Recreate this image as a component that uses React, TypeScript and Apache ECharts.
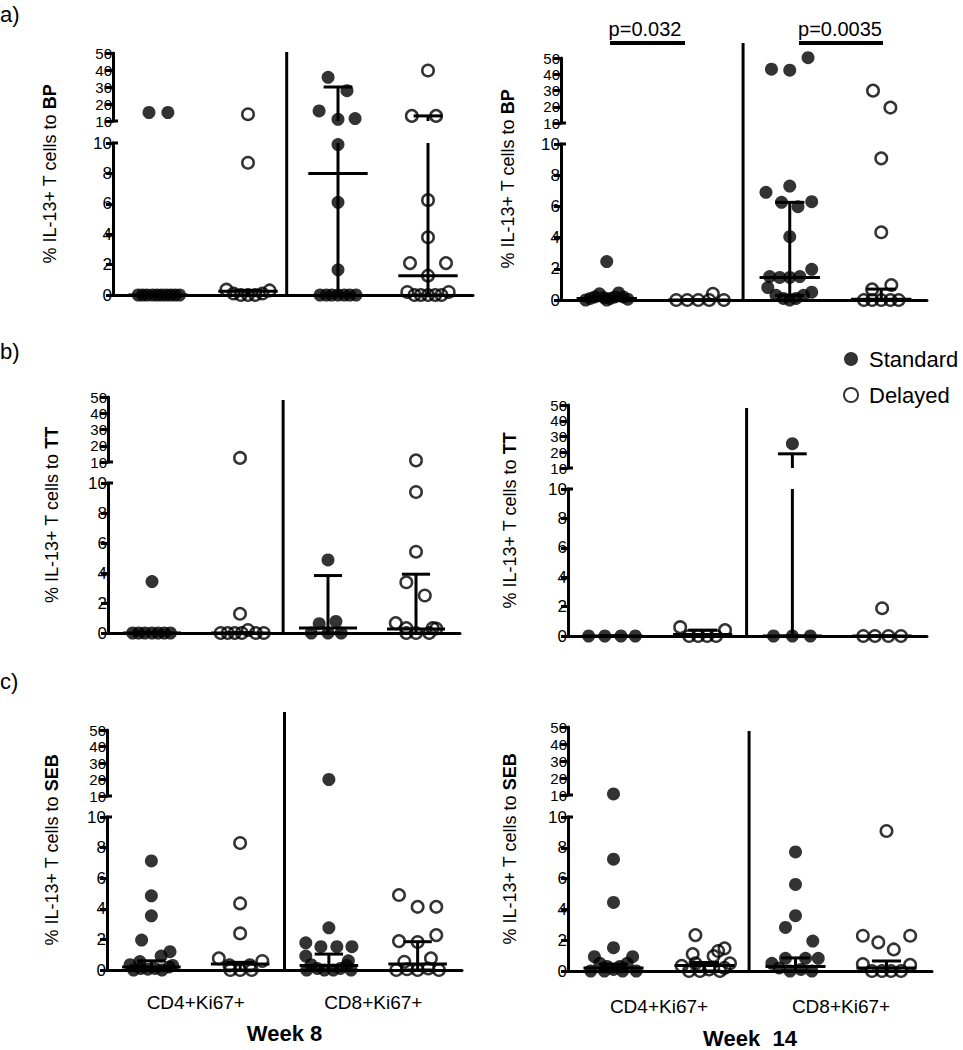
import { useEffect, useRef } from "react";
import * as echarts from "echarts";

// ---------- labels ----------
const GROUPS = ["CD4 Standard", "CD4 Delayed", "CD8 Standard", "CD8 Delayed"];
const CELL_TYPES = ["CD4+Ki67+", "CD8+Ki67+"];
const SERIES_NAMES = ["Standard", "Delayed"];
const STIMULI = ["BP", "TT", "SEB"];
const WEEKS = ["Week 8", "Week  14"];
const PANEL_LETTERS = ["a)", "b)", "c)"];
const LOWER_TICKS = [0, 2, 4, 6, 8, 10];
const UPPER_TICKS = [10, 20, 30, 40, 50];
const P_VALUES = ["p=0.032", "p=0.0035"];

// ---------- data (group order: CD4 Std, CD4 Del, CD8 Std, CD8 Del) ----------
// a) BP, week 8
const BP_W8_VALUES = [
  [15, 15, 0, 0, 0, 0, 0, 0, 0, 0, 0, 0],
  [14, 8.7, 0.35, 0.1, 0, 0, 0, 0.1, 0.3],
  [35.7, 27.8, 15.9, 11, 11.4, 9.9, 6.1, 1.66, 0, 0, 0, 0, 0, 0, 0],
  [39.7, 13, 13, 6.24, 3.8, 2.1, 2.1, 1.27, 0.2, 0, 0, 0, 0, 0, 0.2],
];
const BP_W8_JITTER = [
  [-0.1, 0.11, -0.22, -0.17, -0.12, -0.06, -0.01, 0.04, 0.09, 0.14, 0.19, 0.24],
  [0, 0, -0.24, -0.16, -0.08, 0, 0.08, 0.16, 0.24],
  [-0.11, 0.1, -0.21, 0, 0.19, 0, 0, 0, -0.2, -0.13, -0.07, 0, 0.07, 0.13, 0.2],
  [0, -0.18, 0.09, 0, 0, -0.2, 0.2, 0, -0.23, -0.15, -0.08, 0, 0.08, 0.15, 0.23],
];
const BP_W8_MEDIAN = [0, 0.25, 8.0, 1.27];
const BP_W8_Q1 = [0, 0, 0, 0];
const BP_W8_Q3 = [0, 0.3, 30, 13];

// a) BP, week 14
const BP_W14_VALUES = [
  [2.46, 0, 0.1, 0.2, 0.4, 0.15, 0, 0.1, 0.2, 0.45, 0.2, 0.05],
  [0, 0, 0, 0, 0.4, 0],
  [43.1, 42.5, 50.2, 6.9, 7.3, 6.26, 5.98, 6.3, 4.06, 1.97, 1.5, 1.45, 1.45, 1.5, 0.8, 0.5, 0.3, 0.1, 0, 0.1, 0.3],
  [29.9, 19.5, 9.08, 4.34, 0.96, 0.68, 0, 0, 0, 0, 0],
];
const BP_W14_JITTER = [
  [0, -0.23, -0.18, -0.13, -0.08, -0.03, 0, 0.04, 0.09, 0.13, 0.18, 0.23],
  [-0.24, -0.12, 0, 0.12, 0.16, 0.28],
  [-0.2, 0, 0.2, -0.26, 0, -0.09, 0.09, 0.24, 0, 0.24, -0.22, -0.11, 0, 0.11, -0.24, 0.24, -0.15, -0.07, 0, 0.07, 0.15],
  [-0.09, 0.1, 0, 0, 0.11, -0.1, -0.19, -0.1, 0, 0.1, 0.19],
];
const BP_W14_MEDIAN = [0.1, 0, 1.45, 0.05];
const BP_W14_Q1 = [0, 0, 0.3, 0];
const BP_W14_Q3 = [0.2, 0, 6.26, 0.7];

// b) TT, week 8
const TT_W8_VALUES = [
  [3.43, 0, 0, 0, 0, 0, 0, 0],
  [12.5, 1.28, 0, 0, 0, 0, 0.2, 0, 0],
  [4.87, 0.62, 0.77, 0, 0, 0],
  [11, 9.4, 5.42, 3.38, 2.5, 0.66, 0.33, 0.33, 0.3, 0, 0, 0],
];
const TT_W8_JITTER = [
  [0, -0.22, -0.15, -0.08, 0, 0.07, 0.14, 0.21],
  [0, 0, -0.22, -0.14, -0.06, 0.02, 0.09, 0.18, 0.27],
  [0, -0.1, 0.09, -0.19, 0, 0.15],
  [0, 0, 0, -0.11, 0.1, -0.23, -0.11, 0.19, 0.23, -0.11, 0, 0.15],
];
const TT_W8_MEDIAN = [0, 0, 0.33, 0.27];
const TT_W8_Q1 = [0, 0, 0, 0];
const TT_W8_Q3 = [0, 0, 3.83, 3.92];

// b) TT, week 14
const TT_W14_VALUES = [
  [0, 0, 0, 0],
  [0.6, 0, 0, 0, 0, 0.4],
  [25.4, 0, 0, 0],
  [1.89, 0, 0, 0, 0],
];
const TT_W14_JITTER = [
  [-0.27, -0.09, 0.09, 0.25],
  [-0.25, -0.15, -0.05, 0.05, 0.15, 0.25],
  [0, -0.21, 0, 0.2],
  [0, -0.21, -0.08, 0.07, 0.21],
];
const TT_W14_MEDIAN = [0, 0.1, 0, 0];
const TT_W14_Q1 = [0, 0, 0, 0];
const TT_W14_Q3 = [0, 0.4, 19, 0];

// c) SEB, week 8
const SEB_W8_VALUES = [
  [7.13, 4.85, 3.54, 1.96, 1.2, 0.91, 0.55, 0.35, 0.3, 0, 0.1, 0.05, 0.1, 0, 0.2],
  [8.3, 4.35, 2.39, 0.76, 0.59, 0.3, 0.3, 0, 0, 0],
  [20, 2.76, 1.78, 1.52, 1.52, 1.52, 0.91, 0.6, 0.35, 0.1, 0, 0, 0.1, 0.3, 0, 0],
  [4.9, 4.13, 4.13, 1.89, 1.83, 2.28, 0.76, 0.54, 0, 0.05, 0, 0.1, 0],
];
const SEB_W8_JITTER = [
  [0, 0, 0, -0.11, 0.21, 0.11, -0.13, -0.24, 0.24, -0.2, -0.12, -0.04, 0.04, 0.12, 0.2],
  [0, 0, 0, -0.24, 0.25, -0.12, 0.11, -0.11, 0, 0.13],
  [0, 0, -0.26, -0.09, 0.09, 0.26, -0.26, 0.22, -0.2, -0.13, -0.05, 0.05, 0.13, 0.2, -0.25, 0.25],
  [-0.21, 0, 0.21, -0.21, 0, 0.21, 0.15, -0.15, -0.24, -0.12, 0, 0.12, 0.24],
];
const SEB_W8_MEDIAN = [0.2, 0.4, 0.3, 0.4];
const SEB_W8_Q1 = [0, 0, 0, 0];
const SEB_W8_Q3 = [0.6, 0.5, 1.04, 1.85];

// c) SEB, week 14
const SEB_W14_VALUES = [
  [10.6, 7.26, 4.45, 1.51, 0.93, 0.93, 0.5, 0.3, 0.1, 0.3, 0.5, 0, 0, 0, 0],
  [2.33, 1.47, 1.3, 1.1, 0.97, 0.5, 0.33, 0.5, 0, 0, 0.1, 0, 0.2],
  [7.73, 5.62, 3.59, 2.83, 1.94, 0.82, 0.82, 0.82, 0.5, 0.2, 0, 0.1, 0],
  [9.09, 2.29, 2.29, 1.86, 1.4, 0.45, 0.4, 0, 0, 0, 0],
];
const SEB_W14_JITTER = [
  [0, 0, 0, 0, -0.21, 0.21, -0.15, -0.07, 0, 0.07, 0.15, -0.25, -0.1, 0.1, 0.25],
  [-0.1, 0.22, 0.15, -0.13, 0.1, 0.28, -0.25, -0.1, -0.17, -0.05, 0.05, 0.17, 0.22],
  [0, 0, 0, -0.11, 0.19, -0.11, 0.11, 0.25, -0.26, -0.18, -0.06, 0.06, 0.18],
  [0, -0.26, 0.26, -0.09, 0.08, -0.26, 0.26, -0.16, -0.05, 0.05, 0.16],
];
const SEB_W14_MEDIAN = [0.2, 0.35, 0.3, 0.2];
const SEB_W14_Q1 = [0, 0, 0, 0];
const SEB_W14_Q3 = [0.45, 0.55, 0.85, 0.65];

// ---------- panels (row-major: row = stimulus, col = week) ----------
const PANELS = [
  { row: 0, col: 0, values: BP_W8_VALUES, jitter: BP_W8_JITTER, median: BP_W8_MEDIAN, q1: BP_W8_Q1, q3: BP_W8_Q3 },
  { row: 0, col: 1, values: BP_W14_VALUES, jitter: BP_W14_JITTER, median: BP_W14_MEDIAN, q1: BP_W14_Q1, q3: BP_W14_Q3 },
  { row: 1, col: 0, values: TT_W8_VALUES, jitter: TT_W8_JITTER, median: TT_W8_MEDIAN, q1: TT_W8_Q1, q3: TT_W8_Q3 },
  { row: 1, col: 1, values: TT_W14_VALUES, jitter: TT_W14_JITTER, median: TT_W14_MEDIAN, q1: TT_W14_Q1, q3: TT_W14_Q3 },
  { row: 2, col: 0, values: SEB_W8_VALUES, jitter: SEB_W8_JITTER, median: SEB_W8_MEDIAN, q1: SEB_W8_Q1, q3: SEB_W8_Q3 },
  { row: 2, col: 1, values: SEB_W14_VALUES, jitter: SEB_W14_JITTER, median: SEB_W14_MEDIAN, q1: SEB_W14_Q1, q3: SEB_W14_Q3 },
];

// ---------- layout (pixels) ----------
const LAYOUT = [
  { left: 113, right: 473, top: 53, brkU: 121, brkL: 143, base: 295, sepTop: 52, sep: 2.43, titleX: 50 },
  { left: 561, right: 927, top: 58, brkU: 123, brkL: 144, base: 300, sepTop: 43, sep: 2.49, titleX: 508 },
  { left: 108, right: 460, top: 397, brkU: 462, brkL: 483, base: 633, sepTop: 400, sep: 2.49, titleX: 52 },
  { left: 568, right: 927, top: 405, brkU: 468, brkL: 489, base: 636, sepTop: 408, sep: 2.49, titleX: 510 },
  { left: 107, right: 462, top: 730, brkU: 796, brkL: 817, base: 970, sepTop: 712, sep: 2.5, titleX: 52 },
  { left: 568, right: 932, top: 727, brkU: 795, brkL: 817, base: 971, sepTop: 731, sep: 2.49, titleX: 510 },
];
const LETTER_Y = [14, 351, 681];
const FONT = "'Liberation Sans', Arial, Helvetica, sans-serif";
const MED_HALF = 0.33;
const CAP_HALF = 0.16;

function makeBarRenderer(lo: number, hi: number) {
  return (params: any, api: any) => {
    const x = api.value(0);
    const med = api.value(1);
    const q1 = api.value(2);
    const q3 = api.value(3);
    const children: any[] = [];
    const style = { stroke: "#000", lineWidth: 3 };
    const seg = (x1: number, y1: number, x2: number, y2: number) => {
      const a = api.coord([x1, y1]);
      const b = api.coord([x2, y2]);
      children.push({ type: "line", shape: { x1: a[0], y1: a[1], x2: b[0], y2: b[1] }, style });
    };
    const inSeg = (v: number) => (lo === 0 ? v >= lo && v <= hi : v > lo && v <= hi);
    const s0 = Math.max(q1, lo);
    const s1 = Math.min(q3, hi);
    if (s1 > s0) seg(x, s0, x, s1);
    if (inSeg(q1)) seg(x - CAP_HALF, q1, x + CAP_HALF, q1);
    if (inSeg(q3)) seg(x - CAP_HALF, q3, x + CAP_HALF, q3);
    if (inSeg(med)) seg(x - MED_HALF, med, x + MED_HALF, med);
    return { type: "group", children };
  };
}

function buildOption() {
  const grid: any[] = [];
  const xAxis: any[] = [];
  const yAxis: any[] = [];
  const series: any[] = [];
  const graphic: any[] = [];
  const black = "#000";

  PANELS.forEach((p, i) => {
    const L = LAYOUT[i];
    const w = L.right - L.left;
    const segs = [
      { lo: LOWER_TICKS[0], hi: LOWER_TICKS[LOWER_TICKS.length - 1], step: LOWER_TICKS[1] - LOWER_TICKS[0], top: L.brkL, height: L.base - L.brkL, lower: true },
      { lo: UPPER_TICKS[0], hi: UPPER_TICKS[UPPER_TICKS.length - 1], step: UPPER_TICKS[1] - UPPER_TICKS[0], top: L.top, height: L.brkU - L.top, lower: false },
    ];
    segs.forEach((s) => {
      const gi = grid.length;
      grid.push({ left: L.left, top: s.top, width: w, height: s.height, containLabel: false, outerBoundsMode: "none" });
      const vx = xAxis.length;
      xAxis.push({ type: "value", gridIndex: gi, min: 0.5, max: 4.5, show: false });
      if (s.lower) {
        xAxis.push({
          type: "category",
          gridIndex: gi,
          data: GROUPS,
          position: "bottom",
          axisLine: { onZero: false, lineStyle: { color: black, width: 3 } },
          axisTick: { alignWithLabel: true, length: 7, lineStyle: { color: black, width: 3 } },
          axisLabel: { show: false },
          splitLine: { show: false },
        });
        if (p.row === 2) {
          xAxis.push({
            type: "category",
            gridIndex: gi,
            data: CELL_TYPES,
            position: "bottom",
            axisLine: { show: false },
            axisTick: { show: false },
            axisLabel: { show: true, fontSize: 19, color: black, fontFamily: FONT, margin: p.col === 0 ? 23 : 26 },
            splitLine: { show: false },
            name: WEEKS[p.col],
            nameLocation: "middle",
            nameGap: p.col === 0 ? 52 : 56,
            nameTextStyle: { fontSize: 22, fontWeight: "bold", color: black, fontFamily: FONT },
          });
        }
      }
      const yi = yAxis.length;
      yAxis.push({
        type: "value",
        gridIndex: gi,
        min: s.lo,
        max: s.hi,
        interval: s.step,
        axisLine: { show: true, onZero: false, lineStyle: { color: black, width: 3 } },
        axisTick: { show: true, length: s.lower ? 7 : 8, lineStyle: { color: black, width: 3 } },
        axisLabel: {
          fontSize: s.lower ? 17 : 15,
          color: black,
          fontFamily: FONT,
          margin: 1,
          showMinLabel: true,
          showMaxLabel: true,
          hideOverlap: false,
          lineHeight: s.lower ? 16 : 12,
        },
        splitLine: { show: false },
      });
      const inSeg = (v: number) => (s.lower ? v <= s.hi : v > s.lo);
      [0, 1].forEach((kind) => {
        const data: number[][] = [];
        p.values.forEach((vals, g) => {
          if (g % 2 !== kind) return;
          vals.forEach((v, k) => {
            if (inSeg(v)) data.push([g + 1 + p.jitter[g][k], v]);
          });
        });
        series.push({
          type: "scatter",
          name: SERIES_NAMES[kind],
          xAxisIndex: vx,
          yAxisIndex: yi,
          symbol: "circle",
          symbolSize: kind === 0 ? 13 : 11.5,
          clip: false,
          z: 2,
          itemStyle:
            kind === 0
              ? { color: black, borderColor: black, borderWidth: 0 }
              : { color: "rgba(255,255,255,0)", borderColor: black, borderWidth: 2.5 },
          data,
        });
      });
      series.push({
        type: "custom",
        name: "median-iqr",
        xAxisIndex: vx,
        yAxisIndex: yi,
        clip: false,
        z: 3,
        silent: true,
        renderItem: makeBarRenderer(s.lo, s.hi),
        encode: { x: 0, y: [1, 2, 3] },
        data: p.median.map((m, g) => [g + 1, m, p.q1[g], p.q3[g]]),
      });
    });

    // vertical separator between CD4 and CD8 groups
    const sx = L.left + ((L.sep - 0.5) * w) / 4;
    graphic.push({ type: "line", shape: { x1: sx, y1: L.base, x2: sx, y2: L.sepTop }, style: { stroke: black, lineWidth: 3 }, z: 5 });
    // axis break caps
    graphic.push({ type: "line", shape: { x1: L.left - 1, y1: L.brkU, x2: L.left + 5, y2: L.brkU }, style: { stroke: black, lineWidth: 3 } });
    graphic.push({ type: "line", shape: { x1: L.left - 1, y1: L.brkL, x2: L.left + 5, y2: L.brkL }, style: { stroke: black, lineWidth: 3 } });
    // y-axis title
    graphic.push({
      type: "text",
      x: L.titleX,
      y: (L.top + L.base) / 2,
      rotation: Math.PI / 2,
      style: {
        text: "{n|% IL-13+ T cells to }{b|" + STIMULI[p.row] + "}",
        align: "center",
        verticalAlign: "middle",
        textAlign: "center",
        textVerticalAlign: "middle",
        rich: {
          n: { fontSize: 18, fontFamily: FONT, fill: black, color: black },
          b: { fontSize: 18, fontFamily: FONT, fontWeight: "bold", fill: black, color: black },
        },
      },
    });
  });

  PANEL_LETTERS.forEach((t, r) => {
    graphic.push({
      type: "text",
      x: 0,
      y: LETTER_Y[r],
      style: { text: t, fontSize: 22, fontFamily: FONT, fill: black, align: "left", verticalAlign: "middle", textAlign: "left", textVerticalAlign: "middle" },
    });
  });

  // p-value annotations (week 14, BP)
  const pBars = [
    { x1: 610, x2: 685, tx: 645 },
    { x1: 799, x2: 883, tx: 840 },
  ];
  pBars.forEach((b, k) => {
    graphic.push({ type: "line", shape: { x1: b.x1, y1: 43, x2: b.x2, y2: 43 }, style: { stroke: black, lineWidth: 4 } });
    graphic.push({
      type: "text",
      x: b.tx,
      y: 29,
      style: { text: P_VALUES[k], fontSize: 20, fontFamily: FONT, fill: black, align: "center", verticalAlign: "middle", textAlign: "center", textVerticalAlign: "middle" },
    });
  });

  return {
    animation: false,
    backgroundColor: "#fff",
    textStyle: { fontFamily: FONT, color: "#000" },
    legend: {
      data: SERIES_NAMES,
      orient: "vertical",
      left: 838,
      top: 342,
      icon: "circle",
      itemWidth: 14,
      itemHeight: 14,
      itemGap: 12,
      selectedMode: false,
      textStyle: { fontSize: 22, lineHeight: 24, color: "#000", fontFamily: FONT, padding: [0, 0, 0, 6] },
    },
    grid,
    xAxis,
    yAxis,
    series,
    graphic,
  };
}

export default function App() {
  const ref = useRef<HTMLDivElement>(null);
  useEffect(() => {
    document.body.style.margin = "0";
    if (!ref.current) return;
    const chart = echarts.init(ref.current, null, { renderer: "svg" });
    chart.setOption(buildOption() as any);
    return () => chart.dispose();
  }, []);
  return <div ref={ref} style={{ width: 963, height: 1050, background: "#fff" }} />;
}
